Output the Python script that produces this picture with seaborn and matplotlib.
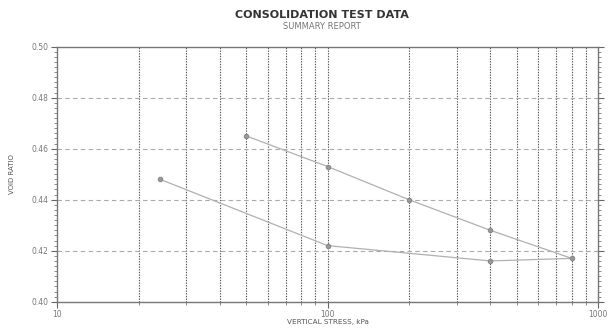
import matplotlib
matplotlib.use("Agg")
import matplotlib.pyplot as plt
import seaborn as sns
import pandas as pd
import numpy as np
from matplotlib.ticker import FixedLocator, NullFormatter, MultipleLocator

# Data (loading then unloading path)
stress = [50, 100, 200, 400, 800, 400, 100, 24]
void_ratio = [0.465, 0.453, 0.440, 0.428, 0.417, 0.416, 0.422, 0.448]
x_ticks = [10, 100, 1000]
x_tick_labels = ["10", "100", "1000"]
y_ticks = [0.40, 0.42, 0.44, 0.46, 0.48, 0.50]
y_tick_labels = ["0.40", "0.42", "0.44", "0.46", "0.48", "0.50"]

df = pd.DataFrame({"stress": stress, "void": void_ratio})

sns.set_style("white")
plt.rcParams['font.family'] = ['DejaVu Sans']

fig = plt.figure(figsize=(6.08, 3.28), dpi=100)
ax = fig.add_axes([0.094, 0.08, 0.8895, 0.778])

sns.lineplot(data=df, x="stress", y="void", sort=False, estimator=None, ax=ax,
             color="#b0b0b0", linewidth=0.9, marker="o", markersize=3.2,
             markerfacecolor="#999999", markeredgecolor="#888888", zorder=3)

ax.set_xscale("log")
ax.set_xlim(10, 1000)
ax.set_ylim(0.40, 0.50)

ax.set_xticks(x_ticks)
ax.set_xticklabels(x_tick_labels)
minor_x = [m * d for d in (10, 100) for m in range(2, 10)]
ax.xaxis.set_minor_locator(FixedLocator(minor_x))
ax.xaxis.set_minor_formatter(NullFormatter())
ax.set_yticks(y_ticks)
ax.set_yticklabels(y_tick_labels)
ax.yaxis.set_minor_locator(MultipleLocator(0.002))

# grid
for xv in minor_x + [100]:
    ax.axvline(xv, color="#555555", linestyle=(0, (1.2, 1.2)), linewidth=0.8, zorder=1)
for yv in [0.42, 0.44, 0.46, 0.48]:
    ax.axhline(yv, color="#aaaaaa", linestyle=(0, (4, 3)), linewidth=0.8, zorder=1)

ax.tick_params(axis="both", which="major", labelsize=5.5, labelcolor="#777777",
               color="#666666", length=4, width=0.8, direction="out", pad=2)
ax.tick_params(axis="both", which="minor", color="#777777", length=2.5, width=0.6, direction="out")
ax.tick_params(axis="y", which="both", right=True, left=True)
ax.tick_params(axis="x", which="both", bottom=True)

for s in ax.spines.values():
    s.set_color("#777777")
    s.set_linewidth(1.0)

ax.set_xlabel("VERTICAL STRESS, kPa", fontsize=5.2, color="#555555", labelpad=0)
ax.set_ylabel("VOID RATIO", fontsize=5, color="#555555", labelpad=12)

fig.text(0.53, 0.955, "CONSOLIDATION TEST DATA", ha="center", va="center",
         fontsize=8, fontweight="bold", color="#333333")
fig.text(0.53, 0.92, "SUMMARY REPORT", ha="center", va="center",
         fontsize=6, color="#777777")

fig.savefig("out.png", dpi=100)
